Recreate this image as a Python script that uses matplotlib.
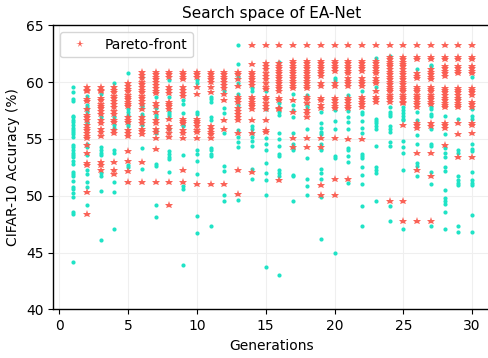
import matplotlib
matplotlib.use("Agg")
import matplotlib.pyplot as plt

# ---------------------------------------------------------------------------
# Data (CIFAR-10 accuracy, %), one list per generation
# ---------------------------------------------------------------------------
generations = [1, 2, 3, 4, 5, 6, 7, 8, 9, 10,
               11, 12, 13, 14, 15, 16, 17, 18, 19, 20,
               21, 22, 23, 24, 25, 26, 27, 28, 29, 30]

# all sampled architectures that are not on the Pareto front
other_acc = [
    [59.56, 59.18, 58.5, 58.35, 57.06, 56.9, 56.7, 56.5, 56.2, 56.0, 55.8, 55.6,
     55.4, 55.2, 54.5, 54.3, 54.0, 53.8, 53.6, 53.4, 53.1, 52.8, 52.1, 51.9,
     51.7, 51.3, 50.8, 50.6, 50.2, 49.9, 48.6, 48.4, 44.2],
    [58.8, 58.0, 57.8, 57.6, 57.4, 56.5, 56.4, 54.6, 54.3, 53.6, 52.3, 51.9,
     51.2, 50.8, 49.2],
    [59.0, 56.9, 54.3, 54.0, 53.8, 53.6, 52.0, 51.7, 50.4, 46.1],
    [59.9, 56.9, 56.2, 56.0, 54.0, 53.8, 51.2, 50.3, 47.1],
    [60.85, 57.6, 57.4, 57.1, 56.3, 56.1, 52.7, 52.5],
    [60.5, 58.0, 57.8, 57.2, 57.0, 56.2, 54.2, 52.4],
    [58.7, 57.7, 57.1, 56.9, 55.8, 55.5, 52.8, 52.6, 49.2, 48.1],
    [60.2, 58.7, 57.4, 57.2, 57.0, 55.85, 53.9, 53.7, 53.4, 53.2, 52.1],
    [58.44, 58.1, 57.3, 56.2, 56.1, 53.6, 50.9, 50.6, 43.9],
    [60.2, 59.9, 57.4, 57.2, 54.0, 53.7, 53.1, 51.9, 48.2, 46.7],
    [58.7, 58.5, 58.3, 56.9, 56.7, 54.2, 54.0, 53.7, 53.5, 47.3],
    [59.2, 57.7, 57.3, 55.5, 52.6, 52.2, 50.1, 49.5],
    [63.3, 61.6, 60.5, 59.9, 59.0, 58.0, 55.8, 55.2, 54.7, 54.3, 49.6],
    [59.5, 59.2, 56.1, 55.85, 55.5, 55.2, 54.8, 54.4, 52.4, 51.5],
    [59.2, 57.6, 55.06, 54.6, 54.0, 52.9, 52.0, 51.4, 50.1, 43.7],
    [61.8, 58.15, 57.8, 57.4, 57.1, 55.56, 54.97, 54.4, 53.7, 53.5, 52.3, 52.0,
     51.7, 43.0],
    [59.0, 58.0, 57.56, 56.9, 55.56, 54.6, 54.2, 54.0, 51.8, 51.7, 49.5],
    [58.9, 58.0, 57.8, 55.85, 53.3, 51.44, 50.85, 50.06],
    [57.4, 56.4, 56.0, 55.6, 55.4, 54.6, 54.0, 52.4, 52.0, 51.5, 49.85, 46.2],
    [60.35, 60.2, 57.56, 56.6, 55.9, 53.5, 53.3, 44.97],
    [58.9, 57.5, 56.9, 56.5, 55.9, 54.2, 54.0, 53.5, 52.94, 51.15],
    [59.2, 57.4, 57.2, 56.6, 56.0, 55.5, 53.7, 53.5, 53.3, 52.56, 51.8, 51.0,
     49.1, 47.3],
    [62.1, 59.6, 56.8, 56.6, 56.4, 56.15, 55.9, 54.4, 52.56, 52.3, 52.0, 49.5],
    [62.3, 57.85, 57.4, 57.2, 57.0, 56.1, 55.85, 55.6, 54.76, 54.4, 49.1, 47.8],
    [57.85, 57.56, 57.26, 57.0, 56.8, 56.7, 54.8, 54.3, 53.8, 52.3, 47.1],
    [61.15, 57.4, 56.7, 55.35, 54.56, 52.85, 52.6, 51.7],
    [61.5, 61.4, 57.85, 57.6, 57.2, 57.0, 55.9, 54.56, 54.4, 52.1, 51.0, 47.3],
    [57.0, 55.44, 54.2, 53.8, 53.4, 52.5, 52.2, 50.5, 49.8, 49.5, 49.3, 48.6,
     47.06],
    [58.6, 56.8, 54.0, 53.8, 51.7, 51.4, 51.15, 50.94, 47.3, 46.8],
    [60.5, 57.6, 57.0, 56.8, 54.6, 54.1, 53.9, 52.1, 51.4, 51.15, 50.94, 48.3,
     46.8],
]

# Pareto-front architectures
pareto_acc = [
    [],
    [59.56, 59.3, 59.2, 58.5, 58.35, 57.6, 57.1, 56.9, 56.7, 56.2, 56.0, 55.8,
     55.5, 55.3, 55.1, 54.5, 53.8, 52.9, 52.7, 50.3, 48.4],
    [59.56, 59.3, 59.2, 58.6, 58.4, 58.1, 57.9, 57.7, 57.5, 57.2, 56.7, 56.4,
     55.9, 55.6, 55.3, 53.0, 52.7, 52.3],
    [59.56, 59.3, 59.1, 58.8, 58.6, 58.35, 58.1, 57.8, 57.5, 57.2, 56.7, 56.5,
     55.8, 55.5, 53.0, 52.3, 51.9],
    [59.9, 59.7, 59.4, 59.2, 58.9, 58.7, 58.5, 58.3, 58.1, 57.9, 56.9, 56.7,
     56.5, 55.8, 55.5, 55.3, 53.9, 53.1, 52.2, 51.2],
    [60.94, 60.65, 60.35, 60.06, 59.8, 59.56, 59.3, 59.1, 58.8, 58.6, 58.35,
     58.1, 57.6, 56.9, 56.7, 56.4, 55.9, 55.7, 55.4, 53.0, 51.2],
    [60.94, 60.7, 60.5, 60.26, 60.0, 59.76, 59.5, 59.26, 59.03, 58.15, 57.9,
     57.4, 56.7, 56.4, 55.9, 55.6, 55.1, 54.1, 51.2],
    [60.94, 60.7, 60.5, 59.6, 59.3, 59.03, 58.3, 58.1, 57.9, 57.6, 56.8, 56.1,
     55.85, 55.5, 55.15, 51.2, 49.2],
    [60.94, 60.7, 60.5, 60.26, 59.56, 59.3, 59.03, 58.8, 56.8, 56.6, 56.4, 55.8,
     55.5, 55.06, 52.3, 51.2],
    [60.94, 60.7, 60.5, 59.56, 59.0, 56.8, 56.6, 56.4, 56.1, 55.8, 55.6, 55.06,
     51.06],
    [60.94, 60.7, 60.5, 60.26, 60.0, 59.6, 59.1, 56.1, 55.85, 55.6, 55.4, 55.06,
     51.06],
    [60.94, 60.7, 60.5, 60.26, 60.0, 59.76, 59.5, 58.97, 58.4, 56.7, 55.85,
     51.06],
    [60.94, 60.7, 60.26, 59.68, 58.7, 58.5, 58.3, 57.7, 57.5, 57.2, 56.9, 56.7,
     55.5, 52.3, 50.15],
    [63.3, 61.6, 60.94, 60.7, 60.5, 60.26, 60.0, 59.76, 58.7, 58.5, 58.3, 58.1,
     57.9, 57.6, 56.7, 55.5, 52.1],
    [63.3, 61.7, 61.4, 61.15, 60.85, 60.56, 60.26, 59.9, 59.6, 59.4, 58.7, 58.5,
     58.2, 57.9, 57.6, 56.7, 55.8, 55.6],
    [63.24, 61.68, 61.44, 61.24, 61.0, 60.8, 60.56, 60.35, 60.12, 59.9, 59.7,
     59.5, 59.2, 58.6, 58.4, 57.7, 57.6, 51.4],
    [63.24, 61.9, 61.68, 61.44, 61.24, 61.0, 60.8, 60.56, 60.35, 60.12, 59.9,
     59.7, 59.5, 58.44, 57.4, 55.06, 54.3],
    [63.24, 61.9, 61.68, 61.44, 61.24, 61.0, 60.8, 60.56, 60.35, 60.12, 59.9,
     59.7, 59.5, 58.74, 58.5, 58.2, 57.56, 57.3, 56.97, 55.06, 54.3],
    [63.24, 61.9, 61.68, 61.44, 61.24, 61.0, 60.8, 60.56, 59.9, 59.7, 58.6,
     58.4, 58.0, 57.7, 55.06, 54.3, 50.94, 50.06],
    [63.24, 61.9, 61.68, 61.44, 61.24, 61.0, 59.9, 59.7, 58.6, 58.4, 58.15,
     57.9, 57.7, 55.06, 51.5, 50.06],
    [63.24, 61.9, 61.68, 61.44, 61.24, 61.0, 60.8, 60.35, 60.12, 59.9, 59.7,
     58.6, 58.4, 58.15, 57.9, 57.7, 54.97, 51.5],
    [63.24, 61.9, 61.68, 61.44, 61.24, 61.0, 60.35, 60.12, 59.9, 59.7, 58.74,
     58.5, 58.3, 58.1, 57.85, 54.97],
    [63.24, 61.9, 61.68, 61.44, 61.24, 61.0, 60.8, 60.35, 60.12, 59.9, 59.2,
     58.74, 58.5, 58.3],
    [63.24, 62.26, 62.03, 61.8, 61.6, 61.4, 61.15, 60.94, 60.7, 60.5, 60.26,
     60.06, 59.82, 59.6, 59.4, 59.2, 58.9, 58.7, 58.5, 58.3, 49.5],
    [63.24, 62.26, 62.03, 61.8, 61.6, 61.4, 61.15, 60.94, 60.7, 60.5, 60.26,
     60.06, 59.82, 59.6, 59.4, 59.2, 58.9, 58.7, 58.5, 58.3, 58.15, 56.2, 49.5,
     47.8],
    [63.24, 62.26, 62.03, 60.8, 60.56, 60.35, 59.6, 59.4, 59.2, 58.9, 58.7,
     58.5, 58.3, 58.1, 57.85, 56.4, 56.2, 56.0, 53.8, 52.3, 47.8],
    [63.24, 62.26, 62.03, 61.15, 60.94, 60.7, 60.5, 60.26, 59.6, 59.4, 59.2,
     58.9, 58.7, 58.5, 58.3, 58.1, 56.4, 56.1, 53.8, 51.7, 47.8],
    [63.24, 62.26, 62.03, 61.44, 61.24, 61.0, 60.8, 60.56, 59.53, 59.3, 59.1,
     58.9, 58.65, 58.44, 58.2, 58.0, 57.8, 56.4, 56.2, 56.0, 54.5],
    [63.24, 62.26, 62.03, 61.44, 61.24, 61.0, 60.8, 59.53, 59.3, 59.1, 58.9,
     58.65, 58.44, 58.2, 58.0, 57.8, 56.4, 55.44, 53.4],
    [63.24, 62.26, 62.03, 61.44, 61.24, 61.0, 60.8, 59.53, 59.3, 59.1, 58.9,
     58.3, 58.1, 57.85, 56.4, 56.2, 55.5, 53.4],
]

y_ticks = [40, 45, 50, 55, 60, 65]
x_ticks = [0, 5, 10, 15, 20, 25, 30]

# ---------------------------------------------------------------------------
# Colours
# ---------------------------------------------------------------------------
COL_OTHER = "#1fe3c6"
COL_PARETO = "#fa5b4f"


def flatten(groups):
    xs, ys = [], []
    for g, vals in zip(generations, groups):
        xs.extend([g] * len(vals))
        ys.extend(vals)
    return xs, ys


fig = plt.figure(figsize=(4.89, 3.58), dpi=100)
ax = fig.add_axes([0.109, 0.136, 0.891, 0.793])

ox, oy = flatten(other_acc)
px, py = flatten(pareto_acc)

ax.plot(ox, oy, linestyle="none", marker="o", markersize=3.0,
        color=COL_OTHER, markeredgewidth=0, zorder=3)
ax.plot(px, py, linestyle="none", marker="*", markersize=6.2,
        color=COL_PARETO, markeredgewidth=0, alpha=0.95,
        label="Pareto-front", zorder=4)

ax.set_xlim(-0.44, 31.23)
ax.set_ylim(40, 65)
ax.set_xticks(x_ticks)
ax.set_yticks(y_ticks)
ax.tick_params(labelsize=10, length=3.5, width=0.8)
ax.grid(True, color="#efefef", linewidth=0.8, zorder=0)
ax.set_axisbelow(True)

ax.spines["right"].set_visible(False)
for s in ("top", "left", "bottom"):
    ax.spines[s].set_linewidth(1.0)

ax.set_xlabel("Generations", fontsize=10)
ax.set_ylabel("CIFAR-10 Accuracy (%)", fontsize=10)
ax.set_title("Search space of EA-Net", fontsize=11, pad=5)

ax.legend(loc="upper left", fontsize=10, frameon=True, edgecolor="#cccccc",
          handlelength=2.0, borderpad=0.4, markerscale=0.9)

fig.savefig("out.png", dpi=100, facecolor="white")
